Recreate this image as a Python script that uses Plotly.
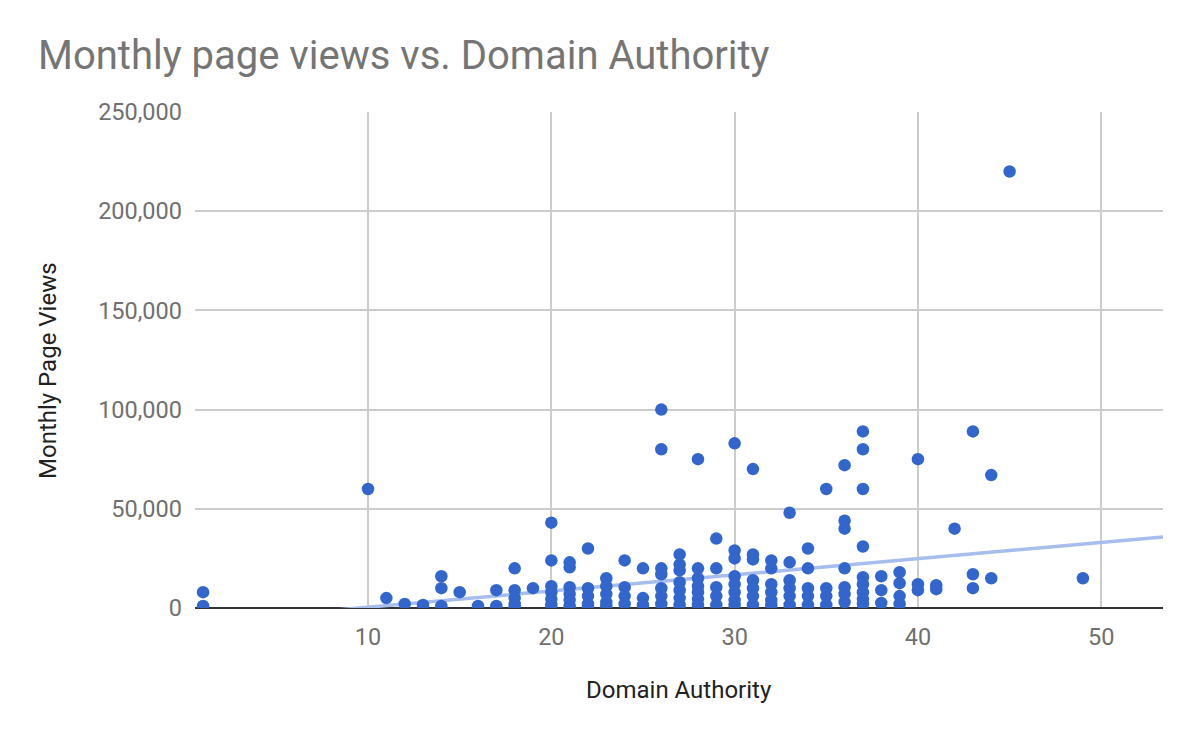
import plotly.graph_objects as go

# Domain Authority (x) and monthly page views (y)
domain_authority = [
    1, 1,
    10, 11, 12, 13,
    14, 14, 14,
    15, 16, 17, 17,
    18, 18, 18, 18, 18,
    19,
    20, 20, 20, 20, 20, 20,
    21, 21, 21, 21, 21, 21,
    22, 22, 22, 22, 22,
    23, 23, 23, 23, 23,
    24, 24, 24, 24,
    25, 25, 25,
    26, 26, 26, 26, 26, 26, 26,
    27, 27, 27, 27, 27, 27, 27,
    28, 28, 28, 28, 28, 28, 28,
    29, 29, 29, 29, 29,
    30, 30, 30, 30, 30, 30, 30, 30,
    31, 31, 31, 31, 31, 31, 31,
    32, 32, 32, 32, 32, 32,
    33, 33, 33, 33, 33, 33,
    34, 34, 34, 34, 34,
    35, 35, 35, 35,
    36, 36, 36, 36, 36, 36, 36,
    37, 37, 37, 37, 37, 37, 37, 37, 37,
    38, 38, 38,
    39, 39, 39, 39,
    40, 40, 40,
    41, 41,
    42,
    43, 43, 43,
    44, 44,
    45,
    49,
]
page_views = [
    8000, 1000,
    60000, 5000, 2000, 1500,
    16000, 10000, 1000,
    8000, 1000, 9000, 1000,
    20000, 9000, 5000, 2000, 500,
    10000,
    43000, 24000, 11000, 8000, 4500, 1500,
    23000, 20500, 10500, 7000, 4000, 1000,
    30000, 10000, 6000, 2000, 500,
    15000, 11000, 7000, 3000, 1000,
    24000, 10500, 6000, 2000,
    20000, 5000, 1500,
    100000, 80000, 20000, 17000, 10000, 6000, 2000,
    27000, 22000, 19000, 13000, 9000, 5000, 1500,
    75000, 20000, 15000, 11000, 8000, 4500, 1500,
    35000, 20000, 10500, 6000, 1500,
    83000, 29000, 25000, 16000, 12000, 8000, 4000, 1500,
    70000, 27000, 24500, 14000, 10000, 6000, 1500,
    24000, 20000, 12000, 8000, 4000, 1500,
    48000, 23000, 14000, 10000, 6000, 1500,
    30000, 20000, 10000, 6000, 1500,
    60000, 10000, 6000, 1500,
    72000, 44000, 40000, 20000, 10500, 7000, 3000,
    89000, 80000, 60000, 31000, 15500, 12000, 8000, 4500, 2000,
    16000, 9000, 2500,
    18000, 12500, 6000, 2000,
    75000, 12000, 9000,
    11500, 9500,
    40000,
    89000, 17000, 10000,
    67000, 15000,
    220000,
    15000,
]

# linear trendline as drawn in the chart (views = slope * DA + intercept)
trend_slope = 815
trend_intercept = -7740

x_ticks = [10, 20, 30, 40, 50]
y_ticks = [0, 50000, 100000, 150000, 200000, 250000]
x_range = [0.56, 53.37]

trend_x = x_range
trend_y = [trend_slope * v + trend_intercept for v in trend_x]

fig = go.Figure()
fig.add_trace(go.Scatter(x=trend_x, y=trend_y, mode="lines",
                         line=dict(color="#a6bdee", width=3.5),
                         hoverinfo="skip", showlegend=False))
fig.add_trace(go.Scatter(x=domain_authority, y=page_views, mode="markers",
                         marker=dict(color="#3366cc", size=12.5),
                         showlegend=False))

fig.update_layout(
    width=1200, height=742,
    margin=dict(l=187, r=45, t=104, b=142),
    paper_bgcolor="white", plot_bgcolor="white",
    font=dict(family="Roboto, Arial, sans-serif", color="#707070"),
    title=dict(text="Monthly page views vs. Domain Authority",
               x=30 / 1200, xanchor="left", xref="container",
               y=1 - 47 / 742, yanchor="middle", yref="container",
               font=dict(size=40, color="#757575")),
)
fig.update_xaxes(range=x_range, tickvals=x_ticks, showgrid=True,
                 gridcolor="#cccccc", gridwidth=1.5, zeroline=False,
                 showline=False, ticks="", tickfont=dict(size=23.5, color="#707070"),
                 ticklabelstandoff=12)
fig.update_yaxes(range=[0, 250000], tickvals=y_ticks, tickformat=",",
                 showgrid=True, gridcolor="#cccccc", gridwidth=1.5,
                 zeroline=True, zerolinecolor="#333333", zerolinewidth=2,
                 showline=False, ticks="", tickfont=dict(size=23.5, color="#707070"),
                 ticklabelstandoff=12)

# axis titles placed as annotations (paper coords of the plot area)
fig.add_annotation(text="Domain Authority", xref="paper", yref="paper",
                   x=(679 - 195) / 968, y=(608 - 690) / 496,
                   xanchor="center", yanchor="middle", showarrow=False,
                   font=dict(size=24, color="#222222"))
fig.add_annotation(text="Monthly Page Views", xref="paper", yref="paper",
                   x=(48 - 195) / 968, y=(608 - 371) / 496, textangle=-90,
                   xanchor="center", yanchor="middle", showarrow=False,
                   font=dict(size=24, color="#222222"))

fig.write_html("out.html")
